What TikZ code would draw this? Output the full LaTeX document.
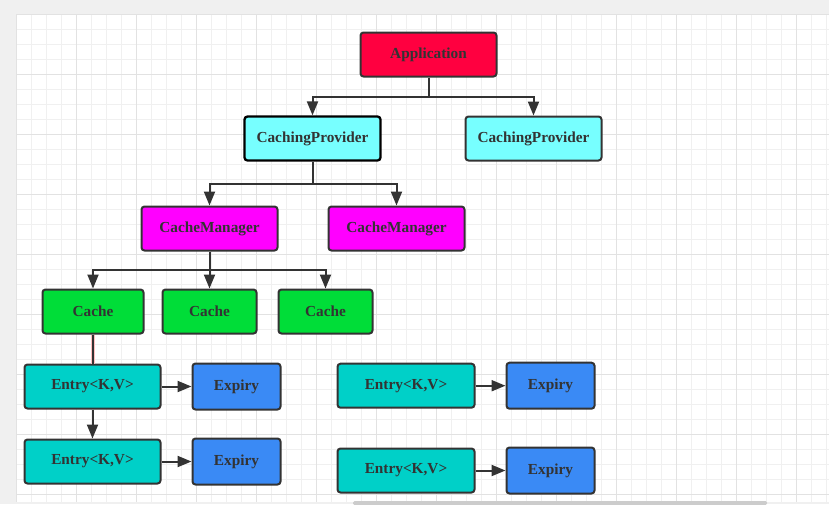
\documentclass[tikz,border=0pt]{standalone}
\usepackage{fontspec}
\setmainfont{Liberation Serif}
\usetikzlibrary{arrows.meta}
\definecolor{ink}{HTML}{333333}
\definecolor{appred}{HTML}{FF0040}
\definecolor{cpcyan}{HTML}{77FFFF}
\definecolor{cmmag}{HTML}{FF00FF}
\definecolor{cachegreen}{HTML}{00DD38}
\definecolor{entryteal}{HTML}{00D0C8}
\definecolor{expblue}{HTML}{3A8AF5}
\definecolor{gridminor}{HTML}{F0F0F0}
\definecolor{gridmajor}{HTML}{E2E2E2}
\definecolor{pagegray}{HTML}{F0F0F0}
\tikzset{
  box/.style={draw=ink, line width=2pt, rounded corners=3pt, text=ink,
    font=\fontsize{15.3}{18}\selectfont\bfseries, minimum height=44pt, inner sep=0pt},
  conn/.style={draw=ink, line width=2pt},
  arr/.style={conn, -{Triangle[length=14pt,width=11pt]}},
}
\begin{document}
\begin{tikzpicture}[x=1pt,y=-1pt]
\useasboundingbox (0,0) rectangle (829,504);
\fill[pagegray] (0,0) rectangle (829,504);
\fill[white] (16,14) rectangle (829,502);
\begin{scope}
\clip (16,14) rectangle (829,502);
\foreach \i in {0,...,54} {\draw[gridminor, line width=1pt] ({16.7+15*\i},14) -- ({16.7+15*\i},502);}
\foreach \i in {0,...,32} {\draw[gridminor, line width=1pt] (16,{14.3+15*\i}) -- (829,{14.3+15*\i});}
\foreach \i in {0,...,13} {\draw[gridmajor, line width=1pt] ({16.7+60*\i},14) -- ({16.7+60*\i},502);}
\foreach \i in {0,...,8} {\draw[gridmajor, line width=1pt] (16,{14.3+60*\i}) -- (829,{14.3+60*\i});}
\end{scope}
\fill[gray!40, rounded corners=1.5pt] (353,501) rectangle (767,505);

% nodes
\node[box, fill=appred, minimum width=136pt] (app) at (428.5,54.5) {Application};
\node[box, fill=cpcyan, minimum width=136pt, draw=black, line width=2.3pt] (cp1) at (312.5,138.5) {CachingProvider};
\node[box, fill=cpcyan, minimum width=136pt] (cp2) at (533.5,138.5) {CachingProvider};
\node[box, fill=cmmag, minimum width=136pt] (cm1) at (209.5,228.5) {CacheManager};
\node[box, fill=cmmag, minimum width=136pt] (cm2) at (396.5,228.5) {CacheManager};
\node[box, fill=cachegreen, minimum width=101pt] (c1) at (93,311.5) {Cache};
\node[box, fill=cachegreen, minimum width=94pt] (c2) at (209.5,311.5) {Cache};
\node[box, fill=cachegreen, minimum width=94pt] (c3) at (325.5,311.5) {Cache};
\node[box, fill=entryteal, minimum width=136pt] (e1) at (92.5,386.5) {Entry<K,V>};
\node[box, fill=expblue, minimum width=88pt, minimum height=46pt] (ex1) at (236.5,386.5) {Expiry};
\node[box, fill=entryteal, minimum width=136pt] (e2) at (92.5,461.5) {Entry<K,V>};
\node[box, fill=expblue, minimum width=88pt, minimum height=46pt] (ex2) at (236.5,461.5) {Expiry};
\node[box, fill=entryteal, minimum width=137pt] (e3) at (406,385.7) {Entry<K,V>};
\node[box, fill=expblue, minimum width=88pt, minimum height=46pt] (ex3) at (550.5,385.7) {Expiry};
\node[box, fill=entryteal, minimum width=137pt] (e4) at (406,470.5) {Entry<K,V>};
\node[box, fill=expblue, minimum width=88pt, minimum height=46pt] (ex4) at (550.5,470.5) {Expiry};

% connectors
\coordinate (j1) at (428.5,96.5);
\coordinate (j2) at (312.5,183.5);
\coordinate (j3) at (209.5,270);
\draw[conn] (app.south) -- (j1);
\draw[arr] (j1) -| (cp1.north);
\draw[arr] (j1) -| (cp2.north);
\draw[conn] (cp1.south) -- (j2);
\draw[arr] (j2) -| (cm1.north);
\draw[arr] (j2) -| (cm2.north);
\draw[conn] (cm1.south) -- (j3);
\draw[arr] (j3) -| (c1.north);
\draw[arr] (j3) -- (c2.north);
\draw[arr] (j3) -| (c3.north);
\draw[line width=3.6pt, red!25] (c1.south) -- (c1.south|-e1.north);
\draw[conn] (c1.south) -- (c1.south|-e1.north);
\draw[arr] (e1.east) -- (ex1.west);
\draw[arr] (e1.south) -- (e2.north);
\draw[arr] (e2.east) -- (ex2.west);
\draw[arr] (e3.east) -- (ex3.west);
\draw[arr] (e4.east) -- (ex4.west);
\end{tikzpicture}
\end{document}
